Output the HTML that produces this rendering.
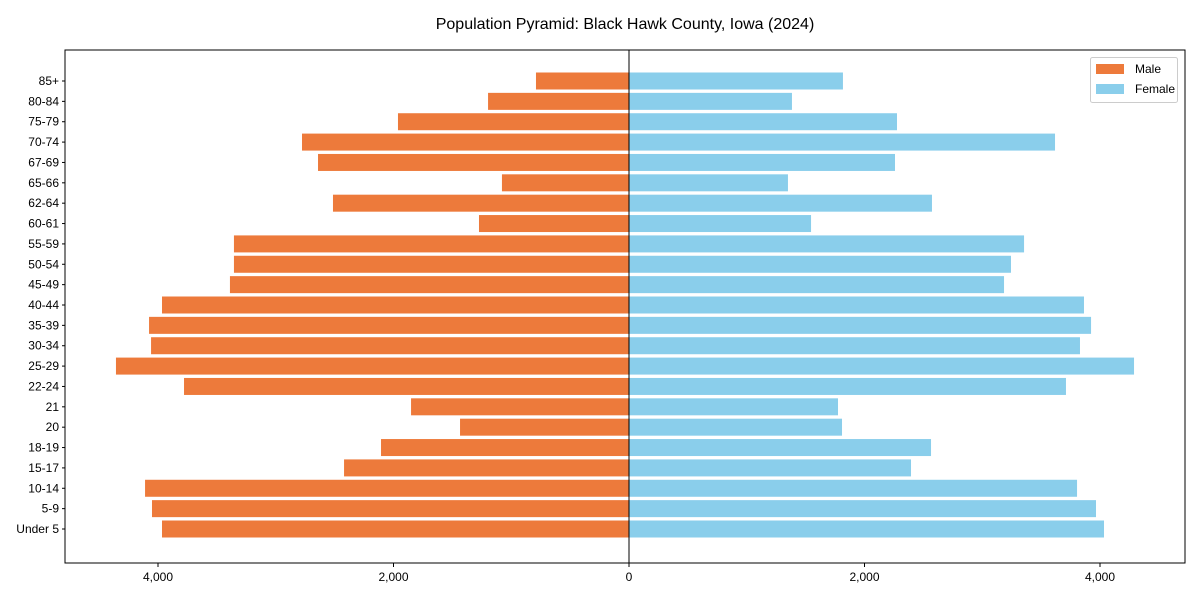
<!DOCTYPE html>
<html><head><meta charset="utf-8"><style>
body{margin:0;background:#fff;}
svg text{font-family:"Liberation Sans",Arial,sans-serif;}
</style></head><body>
<svg id="c" width="1200" height="600" xmlns="http://www.w3.org/2000/svg">
<rect width="1200" height="600" fill="#fff"/>
<text x="625" y="29" text-anchor="middle" font-size="16" fill="#000">Population Pyramid: Black Hawk County, Iowa (2024)</text>
<g id="bars"></g>
<g id="axes"></g>
<rect x="65" y="50" width="1120" height="513" fill="none" stroke="#000" stroke-width="1"/>
<g>
<rect x="1090.5" y="57.5" width="87" height="45" rx="2" fill="#fff" stroke="#ccc"/>
<rect x="1096" y="64" width="28" height="10" fill="#ED7A3B"/>
<text x="1135" y="73" font-size="12">Male</text>
<rect x="1096" y="84" width="28" height="10" fill="#8ACEEB"/>
<text x="1135" y="93" font-size="12">Female</text>
</g>
</svg>
<script>
const categories=["85+","80-84","75-79","70-74","67-69","65-66","62-64","60-61","55-59","50-54","45-49","40-44","35-39","30-34","25-29","22-24","21","20","18-19","15-17","10-14","5-9","Under 5"];
const maleValues=[790,1197,1962,2777,2641,1079,2514,1274,3355,3355,3389,3966,4076,4059,4357,3779,1851,1435,2106,2420,4110,4051,3966];
const femaleValues=[1817,1384,2276,3618,2259,1350,2573,1546,3355,3244,3185,3864,3924,3830,4289,3711,1775,1809,2565,2395,3805,3966,4034];
const tickValues=[-4000,-2000,0,2000,4000];
const tickLabels=["4,000","2,000","0","2,000","4,000"];
const NS="http://www.w3.org/2000/svg";
const x0=629,scale=0.11775;
function xs(v){return x0+v*scale;}
function ys(i){return 81+i*((529-81)/(categories.length-1));}
const bh=17;
const bars=document.getElementById('bars'),axes=document.getElementById('axes');
function mk(tag,attrs,parent){const e=document.createElementNS(NS,tag);for(const k in attrs)e.setAttribute(k,attrs[k]);parent.appendChild(e);return e;}
categories.forEach((c,i)=>{
  const y=ys(i);
  let m=mk('rect',{x:xs(-maleValues[i]),y:y-bh/2,width:xs(0)-xs(-maleValues[i]),height:bh,fill:'#ED7A3B'},bars);
  
  
  let f=mk('rect',{x:xs(0),y:y-bh/2,width:xs(femaleValues[i])-xs(0),height:bh,fill:'#8ACEEB'},bars);
  
  
  mk('line',{x1:62,x2:65,y1:y,y2:y,stroke:'#000'},axes);
  let t=mk('text',{x:59,y:y+4,'text-anchor':'end','font-size':'12'},axes);
  t.textContent=c;
  
  
});
mk('line',{x1:x0,x2:x0,y1:50,y2:563,stroke:'#000','stroke-width':1},axes);
tickValues.forEach((v,i)=>{
  const x=xs(v);
  mk('line',{x1:x,x2:x,y1:563,y2:567,stroke:'#000'},axes);
  let t=mk('text',{x:x,y:581,'text-anchor':'middle','font-size':'12'},axes);
  t.textContent=tickLabels[i];
  
  
});
</script>
</body></html>
